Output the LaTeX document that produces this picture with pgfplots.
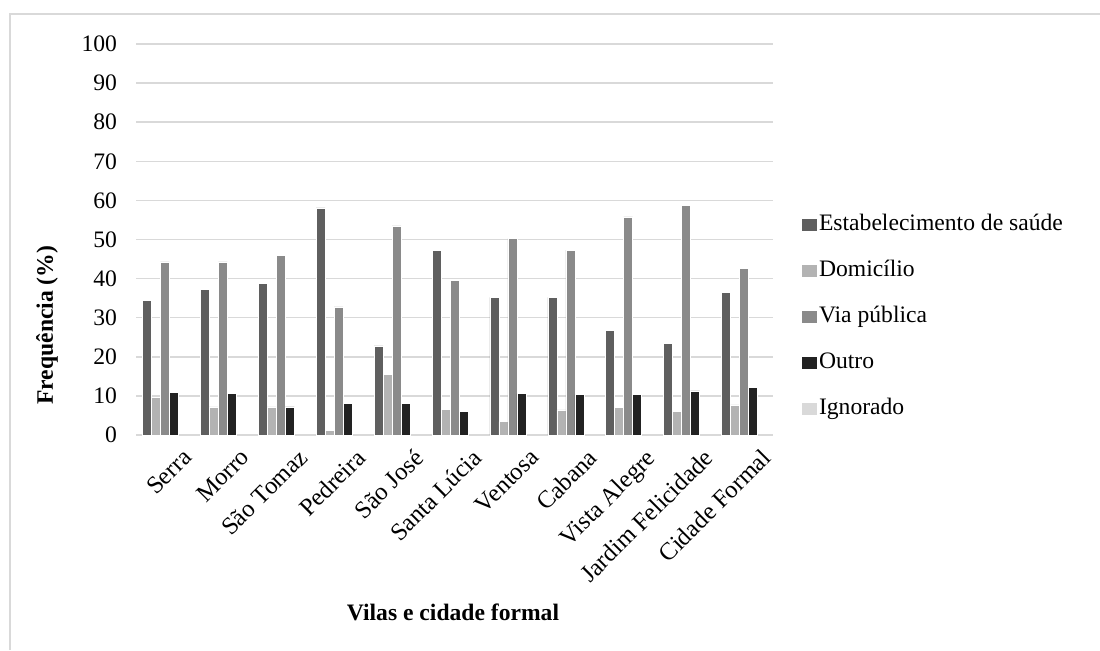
\documentclass[border=0pt]{standalone}
\usepackage{fontspec}
\setmainfont{Liberation Serif}
\usepackage{pgfplots}
\pgfplotsset{compat=1.18}
\usepackage{pgfplotstable}

\definecolor{cEst}{HTML}{5F5F5F}
\definecolor{cDom}{HTML}{B3B3B3}
\definecolor{cVia}{HTML}{8A8A8A}
\definecolor{cOut}{HTML}{222222}
\definecolor{cIgn}{HTML}{D9D9D9}
\definecolor{gridgray}{HTML}{D9D9D9}

% Local de ocorrência por vila (%); "Ignorado" é zero em todas as vilas
\pgfplotstableread{
idx est  dom  via  out
0   34.5 9.6  44.3 10.9
1   37.2 7.2  44.3 10.6
2   38.8 7.2  46.0 7.2
3   58.1 1.1  32.8 8.0
4   22.8 15.5 53.5 8.0
5   47.3 6.6  39.5 6.1
6   35.2 3.4  50.2 10.6
7   35.2 6.4  47.3 10.3
8   26.7 7.0  55.8 10.3
9   23.4 6.1  58.7 11.3
10  36.4 7.7  42.7 12.2
}\dados

\newcommand\fs{\fontsize{11.8}{14}\selectfont}
\newcommand\fsx{\fontsize{12.3}{14}\selectfont}

\begin{document}
\begin{tikzpicture}
\useasboundingbox (0,0) rectangle (550pt,-325pt);
\draw[gridgray, line width=0.8pt] (5pt,-325pt) -- (5pt,-7pt) -- (550pt,-7pt);
\begin{axis}[
  at={(68pt,-217.5pt)}, anchor=south west,
  scale only axis, width=318.5pt, height=195.5pt,
  xmin=-0.5, xmax=10.5, ymin=0, ymax=100,
  ytick={0,10,...,100}, xtick={0,...,10},
  xticklabels={Serra,Morro,São Tomaz,Pedreira,São José,Santa Lúcia,Ventosa,Cabana,Vista Alegre,Jardim Felicidade,Cidade Formal},
  major tick length=0pt,
  axis line style={draw=none},
  ymajorgrids, grid style={gridgray, line width=0.75pt},
  /pgf/number format/assume math mode=true,
  tick label style={font=\fs},
  yticklabel style={xshift=-6pt},
  xticklabel style={font=\fsx, rotate=45, anchor=north east, inner sep=1pt, xshift=2.5pt, yshift=-9pt},
  xlabel={\textbf{Vilas e cidade formal}},
  ylabel={\textbf{Frequência (\%)}},
  every axis x label/.style={at={(axis description cs:0.4977,-0.4527)}, anchor=center, font=\fs},
  every axis y label/.style={at={(axis description cs:-0.1397,0.281)}, anchor=center, rotate=90, font=\fs},
  legend style={at={(axis description cs:1.045,0.303)}, anchor=west, draw=none, fill=none, font=\fs,
    row sep=10pt, inner sep=0pt,
    nodes={inner sep=1pt, text height=8.5pt, text depth=2.5pt}},
  legend cell align=left,
  legend image code/.code={\fill[#1,/tikz/.cd,draw=none] (0pt,-3pt) rectangle (7.5pt,3pt);},
]
\addplot[ybar, bar width=4.5pt, bar shift=-9pt, fill=cEst, draw=white, line width=0.25pt] table[x=idx,y=est]{\dados};
\addlegendentry{Estabelecimento de saúde}
\addplot[ybar, bar width=4.5pt, bar shift=-4.5pt, fill=cDom, draw=white, line width=0.25pt] table[x=idx,y=dom]{\dados};
\addlegendentry{Domicílio}
\addplot[ybar, bar width=4.5pt, bar shift=0pt, fill=cVia, draw=white, line width=0.25pt] table[x=idx,y=via]{\dados};
\addlegendentry{Via pública}
\addplot[ybar, bar width=4.5pt, bar shift=4.5pt, fill=cOut, draw=white, line width=0.25pt] table[x=idx,y=out]{\dados};
\addlegendentry{Outro}
\addlegendimage{fill=cIgn}
\addlegendentry{Ignorado}
\end{axis}
\end{tikzpicture}
\end{document}
